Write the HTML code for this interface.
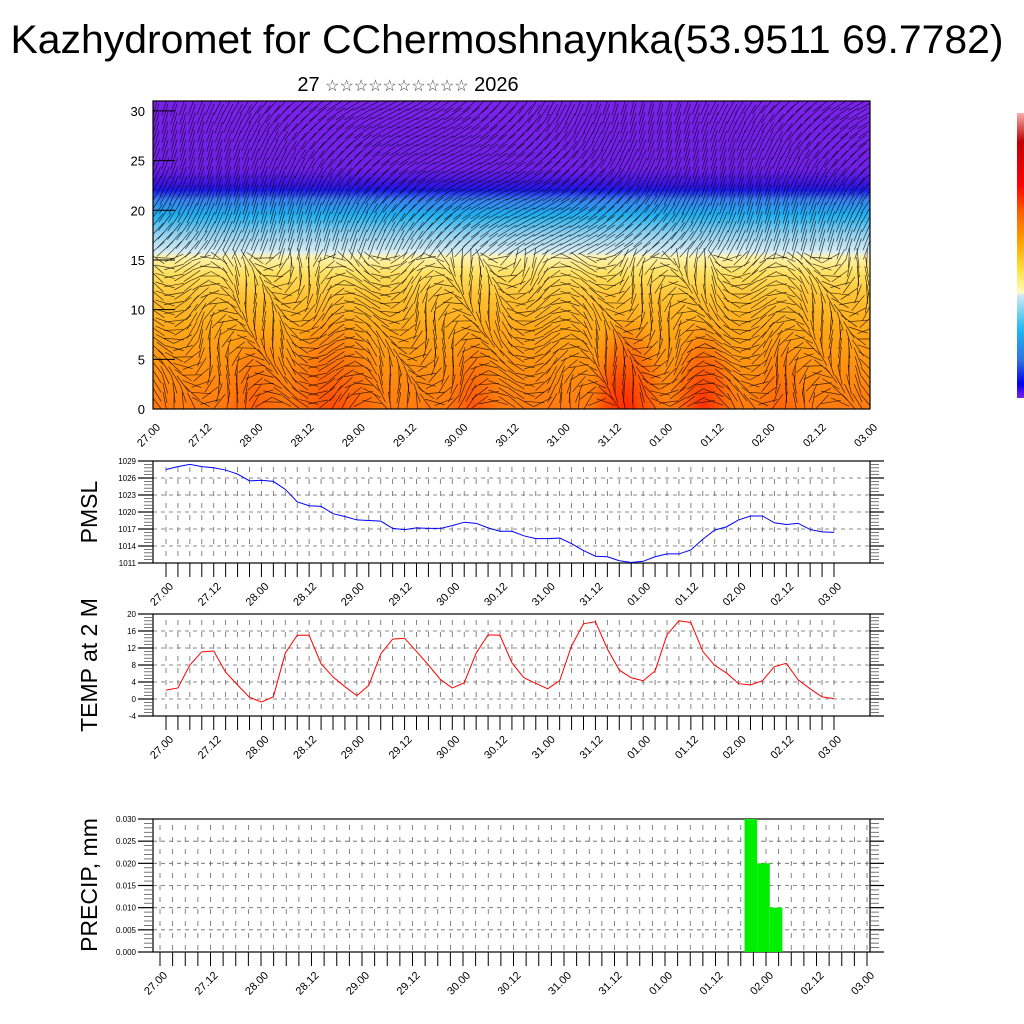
<!DOCTYPE html>
<html><head><meta charset="utf-8"><style>
html,body{margin:0;padding:0;background:#fff;}
svg{display:block;font-family:"Liberation Sans",sans-serif;}
</style></head><body>
<svg id="s" width="1024" height="1024" viewBox="0 0 1024 1024" xmlns="http://www.w3.org/2000/svg">
<defs>
<linearGradient id="tg" x1="0" y1="0" x2="0" y2="1">
<stop offset="0" stop-color="#7a22ea"/>
<stop offset="0.22" stop-color="#7020e8"/>
<stop offset="0.27" stop-color="#3a14e2"/>
<stop offset="0.29" stop-color="#1a1ae8"/>
<stop offset="0.32" stop-color="#3a7ef0"/>
<stop offset="0.37" stop-color="#20b0f0"/>
<stop offset="0.43" stop-color="#8fd0f0"/>
<stop offset="0.49" stop-color="#d8ecf4"/>
<stop offset="0.505" stop-color="#fff4b0"/>
<stop offset="0.56" stop-color="#ffe060"/>
<stop offset="0.64" stop-color="#ffc030"/>
<stop offset="0.74" stop-color="#ffa818"/>
<stop offset="0.87" stop-color="#ff9010"/>
<stop offset="1" stop-color="#ff7a10"/>
</linearGradient>
<radialGradient id="hot"><stop offset="0" stop-color="#ff2000" stop-opacity="0.95"/><stop offset="0.6" stop-color="#ff4000" stop-opacity="0.5"/><stop offset="1" stop-color="#ff6000" stop-opacity="0"/></radialGradient>
<linearGradient id="cb" x1="0" y1="0" x2="0" y2="1">
<stop offset="0" stop-color="#f6b0b0"/>
<stop offset="0.1" stop-color="#c00000"/>
<stop offset="0.25" stop-color="#ff0000"/>
<stop offset="0.35" stop-color="#ff6000"/>
<stop offset="0.45" stop-color="#ffa000"/>
<stop offset="0.55" stop-color="#ffe040"/>
<stop offset="0.63" stop-color="#fffac0"/>
<stop offset="0.64" stop-color="#cfe6f4"/>
<stop offset="0.76" stop-color="#20b8f0"/>
<stop offset="0.87" stop-color="#3070e0"/>
<stop offset="0.95" stop-color="#0000f0"/>
<stop offset="1" stop-color="#7a22ea"/>
</linearGradient>
<clipPath id="tc"><rect x="153" y="101" width="717" height="308"/></clipPath>
</defs>
<text x="507" y="53" font-size="40" text-anchor="middle" textLength="993" lengthAdjust="spacingAndGlyphs">Kazhydromet for CChermoshnaynka(53.9511 69.7782)</text>
<text x="408" y="91" font-size="20" text-anchor="middle">27 <tspan font-size="16" fill="#444">☆☆☆☆☆☆☆☆☆☆</tspan> 2026</text>
<rect x="1017" y="113" width="7" height="285" fill="url(#cb)"/>
<g id="topg"></g>
<g id="pm"></g>
<g id="tp"></g>
<g id="pr"></g>
</svg>
<script>
const xLabels = ["27.00","27.12","28.00","28.12","29.00","29.12","30.00","30.12","31.00","31.12","01.00","01.12","02.00","02.12","03.00"];
const pmsl = [1027.5,1028,1028.4,1028,1027.8,1027.4,1026.7,1025.5,1025.6,1025.4,1024,1021.8,1021.1,1021,1019.7,1019.2,1018.6,1018.5,1018.4,1017.1,1016.9,1017.2,1017.1,1017.1,1017.6,1018.2,1018.0,1017.2,1016.6,1016.6,1015.8,1015.3,1015.3,1015.4,1014.4,1013.2,1012.2,1012.1,1011.4,1011.1,1011.3,1012.1,1012.6,1012.6,1013.3,1015.2,1016.8,1017.4,1018.6,1019.3,1019.3,1018.1,1017.8,1018.0,1016.9,1016.5,1016.4];
const temp = [2.1,2.6,8,11.1,11.3,6.3,3.3,0.4,-0.7,0.5,10.8,15.0,15.0,8.3,5.2,2.9,0.8,3.2,10.6,14.1,14.3,11.2,8,4.6,2.6,3.8,10.8,15.1,15.0,8.5,5.0,3.7,2.4,4.3,12.5,17.7,18.2,11.8,6.8,5.0,4.3,6.6,15.1,18.4,18.0,11.2,7.9,6.1,3.6,3.3,4.3,7.6,8.4,4.5,2.4,0.5,0.1];
const precipIdx = [47,48,49];
const precipVal = [0.03,0.02,0.01];
const pmslTicks = [1011,1014,1017,1020,1023,1026,1029];
const tempTicks = [-4,0,4,8,12,16,20];
const precipTicks = [0,0.005,0.01,0.015,0.02,0.025,0.03];
const topTicks = [0,5,10,15,20,25,30];

const NS="http://www.w3.org/2000/svg";
function mk(tag,attrs,parent){const e=document.createElementNS(NS,tag);for(const k in attrs)e.setAttribute(k,attrs[k]);parent.appendChild(e);return e;}

/* ---------- top cross-section ---------- */
const topG=document.getElementById('topg');
const TL=153,TR=870,TT=101,TB=409;
const ty=v=>TB-(v/31)*(TB-TT);
const tx=i=>TL+i*(TR-TL)/56;
const bg=mk('rect',{x:TL,y:TT,width:TR-TL,height:TB-TT,fill:'url(#tg)'},topG);


const hg=mk('g',{'clip-path':'url(#tc)'},topG);
[[14,55,22,0.55],[25,30,22,0.45],[36,0,22,0.55],[37,40,22,0.95],[43,35,22,0.9],[8,40,20,0.35],[49,30,22,0.3]].forEach(h=>{
  const e=mk('ellipse',{cx:tx(h[0]),cy:TB,rx:Math.max(h[1],20),ry:h[1]+h[2]*2.5,fill:'url(#hot)',opacity:h[3]},hg);
  
  
});
const wg=mk('g',{'clip-path':'url(#tc)',stroke:'#000','stroke-width':'0.7','stroke-opacity':'0.75'},topG);


for(let gx=TL+3;gx<TR;gx+=9){for(let gy=TT+4;gy<TB;gy+=9){
  const u=(gx-TL)/(TR-TL),v=(TB-gy)/(TB-TT);
  let a;
  if(v>0.5) a=-0.9+0.4*Math.sin(u*9+v*5);
  else a=1.2*Math.sin(u*40+v*6)+0.6*Math.cos(v*12+u*17);
  const L=v>0.5?11:10;
  mk('line',{x1:gx-L*Math.cos(a),y1:gy-L*Math.sin(a),x2:gx+L*Math.cos(a),y2:gy+L*Math.sin(a)},wg);
}}
mk('rect',{x:TL,y:TT,width:TR-TL,height:TB-TT,fill:'none',stroke:'#000','stroke-width':1.2},topG);
topTicks.forEach(t=>{
  const y=ty(t);
  mk('line',{x1:TL,y1:y,x2:TL+22,y2:y,stroke:'#000','stroke-width':1},topG);
  const l=mk('text',{x:TL-8,y:y+5,'font-size':13,'text-anchor':'end'},topG);
  l.textContent=t;
  
  
});
xLabels.forEach((s,i)=>{
  const x=TL+i*(TR-TL)/14+8, yy=TB+19;
  const l=mk('text',{x:x,y:yy,'font-size':11,'text-anchor':'end',transform:`rotate(-45 ${x} ${yy})`},topG);
  l.textContent=s;
  
  
});

/* ---------- generic line panel ---------- */
function panel(gid,L,R,T,B,x0,x1,ticks,fmt,title,titleY){
  const g=document.getElementById(gid);
  const vmin=ticks[0],vmax=ticks[ticks.length-1];
  const y=v=>B-(v-vmin)/(vmax-vmin)*(B-T);
  const x=i=>x0+i*(x1-x0)/56;
  const grid=mk('g',{stroke:'#666','stroke-width':0.8,'stroke-dasharray':'4,4'},g);
  
  
  for(let i=0;i<=56;i++){mk('line',{x1:x(i),y1:T+6,x2:x(i),y2:B,'stroke-dasharray':'5,7'},grid);}
  ticks.forEach((t,k)=>{if(k>0&&k<ticks.length-1)mk('line',{x1:L,y1:y(t),x2:R,y2:y(t)},grid);});
  mk('rect',{x:L,y:T,width:R-L,height:B-T,fill:'none',stroke:'#000','stroke-width':1.2},g);
  ticks.forEach((t,k)=>{
    mk('line',{x1:L-15,y1:y(t),x2:L,y2:y(t),stroke:'#000','stroke-width':1.2},g);
    mk('line',{x1:R,y1:y(t),x2:R+14,y2:y(t),stroke:'#000','stroke-width':1.2},g);
    if(k<ticks.length-1){for(let m=1;m<5;m++){const yy=y(t)+(y(ticks[k+1])-y(t))*m/5;
      mk('line',{x1:L-9,y1:yy,x2:L,y2:yy,stroke:'#555','stroke-width':0.8},g);
      mk('line',{x1:R,y1:yy,x2:R+9,y2:yy,stroke:'#555','stroke-width':0.8},g);}}
    const l=mk('text',{x:L-17,y:y(t)+3,'font-size':8,'text-anchor':'end'},g);
    l.textContent=fmt(t);
    
    
  });
  for(let i=0;i<=56;i++){mk('line',{x1:x(i),y1:B,x2:x(i),y2:B+14,stroke:'#000','stroke-width':1},g);}
  xLabels.forEach((s,i)=>{
    const xx=x(i*4)+8, yy=B+24;
    const l=mk('text',{x:xx,y:yy,'font-size':11,'text-anchor':'end',transform:`rotate(-45 ${xx} ${yy})`},g);
    l.textContent=s;
    
    
  });
  const tt=mk('text',{x:0,y:0,'font-size':23,'text-anchor':'middle',transform:`translate(${L-56} ${titleY}) rotate(-90)`},g);
  tt.textContent=title;
  
  
  return {g,x,y};
}
const p1=panel('pm',153,870,461,563,166,834,pmslTicks,v=>String(v),'PMSL',512);
const pl=mk('polyline',{points:pmsl.map((v,i)=>p1.x(i)+','+p1.y(v)).join(' '),fill:'none',stroke:'#0000ff','stroke-width':1},p1.g);



const p2=panel('tp',153,870,614,716,166,834,tempTicks,v=>String(v),'TEMP at 2 M',665);
const tl=mk('polyline',{points:temp.map((v,i)=>p2.x(i)+','+p2.y(v)).join(' '),fill:'none',stroke:'#ff0000','stroke-width':1},p2.g);



const p3=panel('pr',153,870,819,952,160,867,precipTicks,v=>v.toFixed(3),'PRECIP, mm',885);
const step=(867-160)/56;
precipIdx.forEach((idx,k)=>{
  const x0=p3.x(idx)-0.7*step;
  const b=mk('rect',{x:x0,y:p3.y(precipVal[k]),width:step,height:952-p3.y(precipVal[k]),fill:'#00ee00'},p3.g);
  
  
});
</script>
</body></html>
